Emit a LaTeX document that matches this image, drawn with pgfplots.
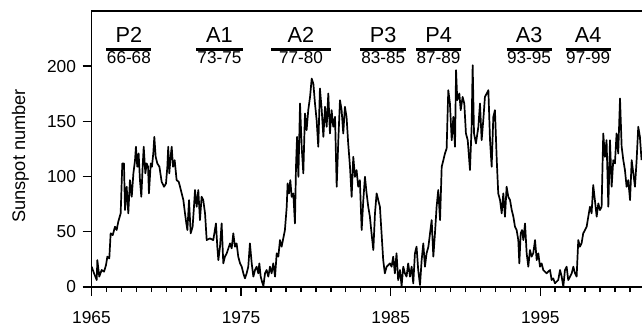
\documentclass[border=0pt]{standalone}
\usepackage{fontspec}
\setmainfont{Liberation Sans}
\usepackage{pgfplots}
\pgfplotsset{compat=1.18}
\begin{document}
\begin{tikzpicture}
\begin{axis}[
 scale only axis, width=550.5bp, height=276bp,
 xmin=1965, xmax=2001.8, ymin=0, ymax=250,
 axis x line*=box, axis y line*=left,
 xtick={1965,1975,1985,1995}, minor xtick={1966,...,2001},
 xtick pos=left, ytick pos=left,
 ytick={0,50,100,150,200},
 tick align=outside,
 major tick length=9bp, minor tick length=5bp,
 every tick/.style={black, line width=1.4bp},
 axis line style={line width=1.6bp},
 /pgf/number format/assume math mode=true,
 /pgf/number format/1000 sep={},
 ticklabel style={font=\fontsize{17.4}{20}\selectfont},
 xticklabel style={yshift=-12bp},
 yticklabel style={xshift=-3bp},
 ylabel={Sunspot number},
 ylabel style={font=\fontsize{18.3}{21}\selectfont, at={(axis description cs:-0.1290,0.475)}, anchor=center},
]
\addplot[black, line width=1.7bp, line join=round] coordinates {
(1965.01,18.4)(1965.17,12.4)(1965.35,6.3)(1965.39,24.4)(1965.52,9.4)(1965.68,15.4)(1965.84,13.9)(1965.97,19.9)
(1966.06,27.5)(1966.19,25.9)(1966.28,48.6)(1966.42,47)(1966.57,54.6)(1966.68,51.6)(1966.79,59.1)(1966.95,66.7)
(1967.06,111.9)(1967.17,111.9)(1967.24,69.7)(1967.35,90.8)(1967.46,66.7)(1967.57,96.8)(1967.69,81.7)(1967.80,102.9)
(1967.91,114.9)(1967.97,127)(1968.06,108.9)(1968.15,121)(1968.24,96.8)(1968.33,81.7)(1968.42,108.9)(1968.49,127)
(1968.60,102.9)(1968.69,111.9)(1968.78,108.9)(1968.84,84.8)(1968.96,111.9)(1969.04,108.9)(1969.13,121)(1969.20,136)
(1969.29,117.9)(1969.40,111.9)(1969.54,108.9)(1969.69,95.3)(1969.85,90.8)(1969.98,93.8)(1970.07,108.9)(1970.13,127)
(1970.20,102.9)(1970.29,117.9)(1970.36,127)(1970.45,108.9)(1970.56,114.9)(1970.69,96.8)(1970.83,95.3)(1970.92,90.8)
(1971.03,84.8)(1971.14,78.7)(1971.25,66.7)(1971.34,57.6)(1971.41,51.6)(1971.52,78.7)(1971.63,48.6)(1971.76,54.6)
(1971.85,72.7)(1971.92,87.8)(1972.03,72.7)(1972.14,87.8)(1972.25,60.6)(1972.36,81.7)(1972.47,78.7)(1972.59,66.7)
(1972.70,42.5)(1972.92,44)(1973.14,42.5)(1973.32,57.6)(1973.41,36.5)(1973.48,24.4)(1973.59,36.5)(1973.70,57.6)
(1973.81,21.4)(1973.92,27.5)(1974.04,30.5)(1974.15,35)(1974.26,39.5)(1974.37,35)(1974.48,48.6)(1974.59,36.5)
(1974.70,39.5)(1974.81,27.5)(1974.93,21.4)(1975.04,18.4)(1975.15,12.4)(1975.26,7.8)(1975.37,12.4)(1975.48,18.4)
(1975.59,39.5)(1975.71,21.4)(1975.82,9.4)(1975.93,15.4)(1976.04,18.4)(1976.15,12.4)(1976.22,21.4)(1976.31,9.4)
(1976.40,4.8)(1976.49,0.9)(1976.60,12.4)(1976.71,15.4)(1976.82,9.4)(1976.93,18.4)(1977.04,12.4)(1977.15,21.4)
(1977.27,9.4)(1977.38,30.5)(1977.49,27.5)(1977.60,42.5)(1977.71,36.5)(1977.82,44)(1977.93,51.6)(1978.05,72.7)
(1978.11,93.8)(1978.20,84.8)(1978.29,96.8)(1978.38,81.7)(1978.49,84.8)(1978.60,57.6)(1978.67,108.9)(1978.74,136)
(1978.83,99.8)(1978.94,166.2)(1979.05,127)(1979.16,102.9)(1979.27,157.2)(1979.38,142.1)(1979.49,160.2)(1979.61,172.2)
(1979.72,188.8)(1979.83,184.3)(1979.94,166.2)(1980.05,151.1)(1980.16,127)(1980.27,179.8)(1980.39,160.2)(1980.50,136)
(1980.61,163.2)(1980.72,145.1)(1980.83,175.3)(1980.94,139.1)(1981.05,160.2)(1981.16,145.1)(1981.28,154.1)(1981.39,90.8)
(1981.50,133)(1981.61,169.2)(1981.72,160.2)(1981.83,139.1)(1981.94,163.2)(1982.05,154.1)(1982.16,130)(1982.28,108.9)
(1982.39,81.7)(1982.50,117.9)(1982.61,99.8)(1982.72,105.9)(1982.83,90.8)(1982.94,96.8)(1983.06,51.6)(1983.17,78.7)
(1983.28,99.8)(1983.39,84.8)(1983.50,72.7)(1983.61,63.7)(1983.72,48.6)(1983.84,33.5)(1983.95,66.7)(1984.06,84.8)
(1984.17,78.7)(1984.28,72.7)(1984.39,48.6)(1984.50,24.4)(1984.61,12.4)(1984.73,18.4)(1984.84,19.9)(1984.95,21.4)
(1985.06,18.4)(1985.17,27.5)(1985.28,12.4)(1985.39,30.5)(1985.50,6.3)(1985.62,15.4)(1985.73,0.9)(1985.84,18.4)
(1985.95,12.4)(1986.06,9.4)(1986.17,21.4)(1986.29,9.4)(1986.40,18.4)(1986.51,3.3)(1986.62,30.5)(1986.73,36.5)
(1986.84,15.4)(1986.96,1.8)(1987.07,24.4)(1987.18,39.5)(1987.29,18.4)(1987.40,30.5)(1987.52,36.5)(1987.63,48.6)
(1987.74,60.6)(1987.85,27.5)(1987.96,48.6)(1988.07,72.7)(1988.18,87.8)(1988.30,60.6)(1988.41,108.9)(1988.52,114.9)
(1988.63,121)(1988.74,125.5)(1988.85,178.3)(1988.96,166.2)(1989.08,133)(1989.19,154.1)(1989.30,127)(1989.37,196.4)
(1989.45,169.2)(1989.59,175.3)(1989.68,160.2)(1989.81,172.2)(1989.92,166.2)(1990.03,139.1)(1990.15,133)(1990.30,105.9)
(1990.41,145.1)(1990.48,200.9)(1990.57,139.1)(1990.70,130)(1990.86,145.1)(1990.97,166.2)(1991.08,133)(1991.19,151.1)
(1991.30,172.2)(1991.42,175.3)(1991.53,178.3)(1991.64,133)(1991.75,108.9)(1991.86,154.1)(1991.97,160.2)(1992.09,114.9)
(1992.19,84.8)(1992.31,78.7)(1992.42,66.7)(1992.53,84.8)(1992.64,63.7)(1992.75,90.8)(1992.86,81.7)(1992.98,78.7)
(1993.09,69.7)(1993.20,63.7)(1993.31,54.6)(1993.42,51.6)(1993.53,42.5)(1993.60,21.4)(1993.69,48.6)(1993.78,51.6)
(1993.87,42.5)(1993.98,57.6)(1994.09,30.5)(1994.20,18.4)(1994.31,33.5)(1994.42,27.5)(1994.53,30.5)(1994.65,42.5)
(1994.76,24.4)(1994.87,30.5)(1994.98,18.4)(1995.09,21.4)(1995.20,15.4)(1995.31,13.9)(1995.42,12.4)(1995.53,13.9)
(1995.65,15.4)(1995.76,6.3)(1995.87,7.8)(1995.98,3.3)(1996.09,4.8)(1996.20,6.3)(1996.32,15.4)(1996.43,9.4)
(1996.54,0.3)(1996.65,15.4)(1996.76,18.4)(1996.87,6.3)(1996.99,9.4)(1997.10,12.4)(1997.21,18.4)(1997.32,12.4)
(1997.43,9.4)(1997.54,42.5)(1997.65,36.5)(1997.76,39.5)(1997.87,48.6)(1997.99,51.6)(1998.10,54.6)(1998.21,63.7)
(1998.32,72.7)(1998.43,66.7)(1998.54,92.3)(1998.65,78.7)(1998.77,63.7)(1998.88,75.7)(1998.99,69.7)(1999.10,72.7)
(1999.21,139.1)(1999.32,117.9)(1999.43,133)(1999.55,72.7)(1999.66,133)(1999.77,90.8)(1999.88,114.9)(1999.99,111.9)
(2000.10,139.1)(2000.21,121)(2000.33,170.7)(2000.44,127)(2000.55,114.9)(2000.66,105.9)(2000.77,90.8)(2000.88,96.8)
(2001.00,78.7)(2001.11,114.9)(2001.22,102.9)(2001.33,90.8)(2001.44,114.9)(2001.55,145.1)(2001.66,136)(2001.77,114.9)
};
\coordinate (bl) at (rel axis cs:0,0);
% period bars and labels
\draw[line width=2.6bp] (axis cs:1966.0,215) -- (axis cs:1969.0,215);
\node[anchor=base, inner sep=0, font=\fontsize{21.8}{24}\selectfont] at (axis cs:1967.5,221.5) {P2};
\node[anchor=north, inner sep=0, font=\fontsize{17.2}{20}\selectfont] at (axis cs:1967.5,213.3) {66-68};
\draw[line width=2.6bp] (axis cs:1972.0,215) -- (axis cs:1975.1,215);
\node[anchor=base, inner sep=0, font=\fontsize{21.8}{24}\selectfont] at (axis cs:1973.55,221.5) {A1};
\node[anchor=north, inner sep=0, font=\fontsize{17.2}{20}\selectfont] at (axis cs:1973.55,213.3) {73-75};
\draw[line width=2.6bp] (axis cs:1977.0,215) -- (axis cs:1981.0,215);
\node[anchor=base, inner sep=0, font=\fontsize{21.8}{24}\selectfont] at (axis cs:1979.0,221.5) {A2};
\node[anchor=north, inner sep=0, font=\fontsize{17.2}{20}\selectfont] at (axis cs:1979.0,213.3) {77-80};
\draw[line width=2.6bp] (axis cs:1982.95,215) -- (axis cs:1986.0,215);
\node[anchor=base, inner sep=0, font=\fontsize{21.8}{24}\selectfont] at (axis cs:1984.5,221.5) {P3};
\node[anchor=north, inner sep=0, font=\fontsize{17.2}{20}\selectfont] at (axis cs:1984.5,213.3) {83-85};
\draw[line width=2.6bp] (axis cs:1986.7,215) -- (axis cs:1989.7,215);
\node[anchor=base, inner sep=0, font=\fontsize{21.8}{24}\selectfont] at (axis cs:1988.2,221.5) {P4};
\node[anchor=north, inner sep=0, font=\fontsize{17.2}{20}\selectfont] at (axis cs:1988.2,213.3) {87-89};
\draw[line width=2.6bp] (axis cs:1992.75,215) -- (axis cs:1995.76,215);
\node[anchor=base, inner sep=0, font=\fontsize{21.8}{24}\selectfont] at (axis cs:1994.25,221.5) {A3};
\node[anchor=north, inner sep=0, font=\fontsize{17.2}{20}\selectfont] at (axis cs:1994.25,213.3) {93-95};
\draw[line width=2.6bp] (axis cs:1996.7,215) -- (axis cs:1999.7,215);
\node[anchor=base, inner sep=0, font=\fontsize{21.8}{24}\selectfont] at (axis cs:1998.2,221.5) {A4};
\node[anchor=north, inner sep=0, font=\fontsize{17.2}{20}\selectfont] at (axis cs:1998.2,213.3) {97-99};
\end{axis}
\pgfresetboundingbox
\path (bl) ++(-91.5bp,-39bp) rectangle ++(642bp,326bp);
\end{tikzpicture}
\end{document}
